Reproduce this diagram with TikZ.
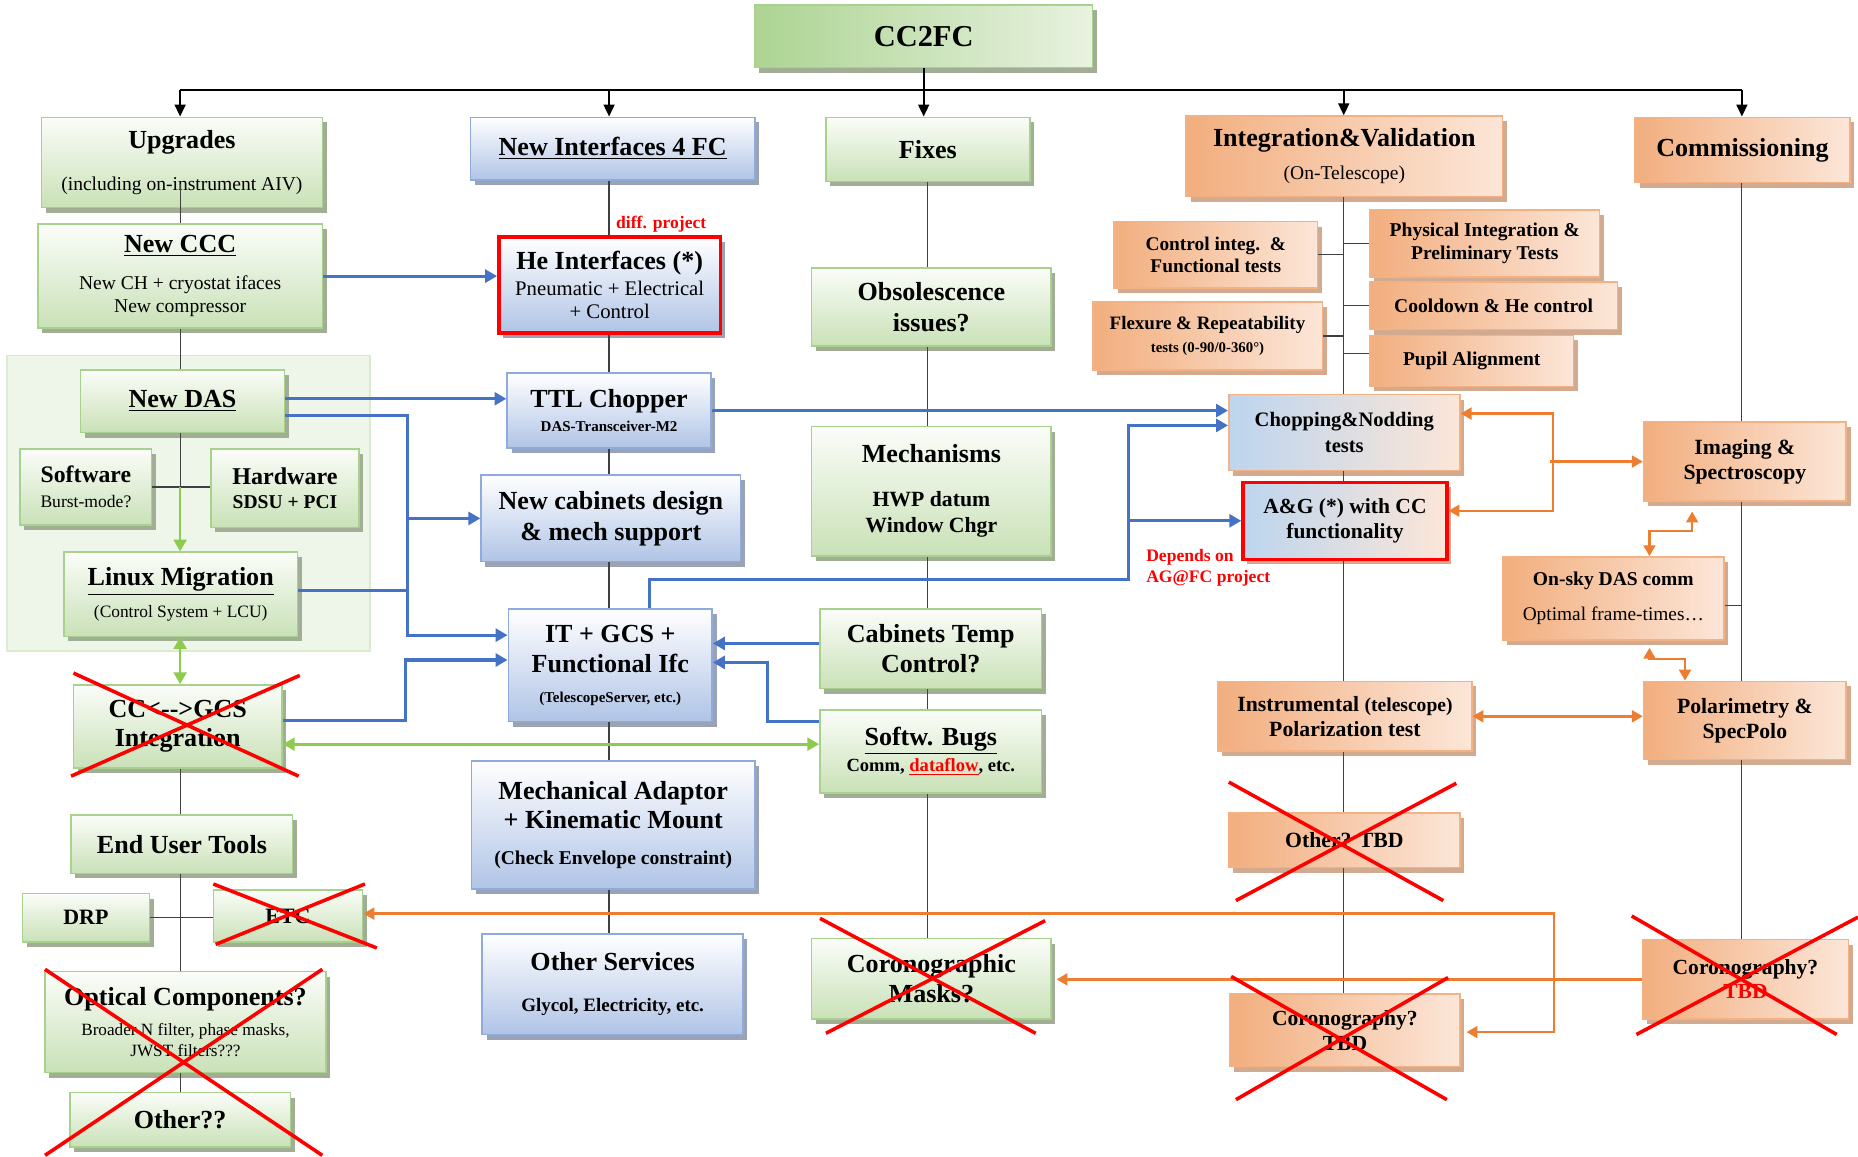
\documentclass[tikz,border=0pt]{standalone}
\usepackage{fontspec}
\setmainfont{Liberation Serif}
\usetikzlibrary{shadows,arrows.meta,calc}
\definecolor{grB}{HTML}{A9D18E}
\definecolor{grT}{HTML}{FBFDF9}
\definecolor{grF}{HTML}{C9E1B7}
\definecolor{grS}{HTML}{A2AD96}
\definecolor{blB}{HTML}{8FAADC}
\definecolor{blF}{HTML}{B0C4E6}
\definecolor{blS}{HTML}{9AA3B6}
\definecolor{orB}{HTML}{F4B183}
\definecolor{orD}{HTML}{F2AE7E}
\definecolor{orL}{HTML}{FCE6D8}
\definecolor{orS}{HTML}{D2AA90}
\definecolor{chL}{HTML}{BDD5EE}
\definecolor{ccL}{HTML}{ADD493}
\definecolor{ccR}{HTML}{E8F2E0}
\definecolor{cBl}{HTML}{4472C4}
\definecolor{cGr}{HTML}{8CCB4E}
\definecolor{cOr}{HTML}{ED7D31}
\definecolor{cRd}{HTML}{FF0000}
\definecolor{cGy}{HTML}{404040}
\definecolor{pnlF}{HTML}{EEF5E9}
\definecolor{pnlB}{HTML}{DCEBD0}
\lineskiplimit=-100pt
\pgfdeclarelayer{bg}
\pgfsetlayers{bg,main}
\newcommand{\fsz}[2]{\fontsize{#1}{#2}\selectfont\lineskiplimit=-100pt\relax}
\newcommand{\tR}{\fsz{9.9}{10}\mdseries}
\newcommand{\tB}{\fsz{9.9}{10}}
\newcommand{\tM}{\fsz{11}{11}}
\newcommand{\tX}{\fsz{7.6}{8}}
\newcommand{\bx}[7]{%
  \pgfmathsetmacro{\bxcx}{(#3+#5)/2}%
  \pgfmathsetmacro{\bxcy}{(#4+#6)/2}%
  \pgfmathsetlengthmacro{\bxw}{(#5-#3)*0.6pt}%
  \pgfmathsetlengthmacro{\bxh}{(#6-#4)*0.6pt}%
  \node[#2, minimum width=\bxw, minimum height=\bxh] (#1) at (\bxcx,\bxcy) {#7};%
}
\tikzset{
  box/.style={align=center, inner sep=0pt, line width=0.8pt, font=\fsz{13.2}{15}\bfseries},
  ft/.style 2 args={font=\fsz{#1}{#2}\bfseries},
  shd/.style={drop shadow={shadow xshift=2.2pt, shadow yshift=-2.6pt, fill=#1, opacity=1}},
  gbox/.style={box, draw=grB, top color=grT, bottom color=grF, shd=grS},
  bbox/.style={box, draw=blB, top color=white, bottom color=blF, shd=blS},
  obox/.style={box, draw=orB, left color=orD, right color=orL, shd=orS},
  chbox/.style={box, draw=orB, left color=chL, right color=orL, shd=orS},
  redb/.style={draw=cRd, line width=1.8pt},
  lbl/.style={text=cRd, inner sep=0pt, font=\fsz{8.9}{10.8}\bfseries},
  gline/.style={draw=cGy, line width=0.6pt},
  kline/.style={draw=black, line width=0.9pt},
  cnK/.style={kline, -{Triangle[length=6pt,width=5.5pt]}},
  bline/.style={draw=cBl, line width=1.6pt},
  cnB/.style={bline, -{Triangle[length=6pt,width=6.5pt]}},
  cnG/.style={draw=cGr, line width=1.4pt, -{Triangle[length=6pt,width=6.5pt]}},
  cnGG/.style={draw=cGr, line width=1.4pt, {Triangle[length=6pt,width=6.5pt]}-{Triangle[length=6pt,width=6.5pt]}},
  cnO/.style={draw=cOr, line width=1.2pt, -{Triangle[length=5.5pt,width=6pt]}},
  cnOO/.style={draw=cOr, line width=1.2pt, {Triangle[length=5.5pt,width=6pt]}-{Triangle[length=5.5pt,width=6pt]}},
  xout/.style={draw=cRd, line width=1.8pt},
}
\begin{document}
\begin{tikzpicture}[x=0.6pt, y=-0.6pt]
\useasboundingbox (0,0) rectangle (1568,976);
\begin{pgfonlayer}{bg}
  \draw[fill=pnlF, draw=pnlB, line width=1pt] (6,300) rectangle (312,549);
\end{pgfonlayer}

% ---------- top ----------
\bx{cc2fc}{box, draw=grB, left color=ccL, right color=ccR, shd=grS, ft={15.4}{16}}{637}{4}{922}{57}{CC2FC}

% ---------- column 1 ----------
\bx{upg}{gbox, ft={13.2}{21}}{35}{99}{272}{175}{Upgrades\\{\tR (including on-instrument AIV)}}
\bx{ccc}{gbox, ft={13.2}{12}}{32}{189}{272}{277}{\underline{New CCC}\\[6.6pt]{\tR New CH + cryostat ifaces}\\{\tR New compressor}}
\bx{das}{gbox}{68}{312}{240}{365}{\underline{New DAS}}
\bx{sw}{gbox, ft={12}{12.6}}{17}{379}{128}{443}{Software\\{\fsz{8.9}{9}\mdseries Burst-mode?}}
\bx{hw}{gbox, ft={12.2}{12.6}}{178}{379}{303}{445}{Hardware\\{\tB SDSU + PCI}}
\bx{lm}{gbox, ft={13.2}{16.2}}{54}{466}{251}{537}{\underline{Linux Migration}\\{\fsz{8.8}{9}\mdseries (Control System + LCU)}}
\bx{cc}{gbox}{62}{578}{238}{648}{CC<{-}{-}>GCS\\Integration}
\bx{eut}{gbox}{60}{688}{247}{737}{End User Tools}
\bx{drp}{gbox, ft={11.1}{12}}{19}{754}{126}{795}{DRP}
\bx{etc}{gbox, ft={11.1}{12}}{180}{751}{306}{795}{ETC}
\bx{opt}{gbox, ft={13.2}{10.8}}{38}{820}{275}{905}{Optical Components?\\[4.2pt]{\fsz{8.7}{9}\mdseries Broader N filter, phase masks,}\\{\fsz{8.7}{9}\mdseries JWST filters???}}
\bx{oth}{gbox}{59}{922}{245}{968}{Other??}

% ---------- column 2 ----------
\bx{nif}{bbox}{397}{99}{637}{152}{\underline{New Interfaces 4 FC}}
\bx{he}{bbox, redb, ft={13.2}{11.4}}{421}{200}{608}{281}{He Interfaces (*)\\[1.8pt]{\fsz{10.5}{10}\mdseries Pneumatic + Electrical}\\{\fsz{10.5}{10}\mdseries + Control}}
\bx{ttl}{bbox, ft={13.2}{12}}{428}{315}{600}{378}{TTL Chopper\\{\tX DAS-Transceiver-M2}}
\bx{cab}{bbox, ft={13.2}{15.6}}{406}{401}{625}{474}{New cabinets design\\\& mech support}
\bx{it}{bbox}{429}{514}{601}{609}{IT + GCS +\\Functional Ifc\\{\tX (TelescopeServer, etc.)}}
\bx{mech}{bbox}{398}{642}{637}{750}{Mechanical Adaptor\\+ Kinematic Mount\\[3pt]{\tB (Check Envelope constraint)}}
\bx{os}{bbox, ft={13.2}{21}}{407}{788}{627}{873}{Other Services\\{\fsz{9.6}{10}Glycol, Electricity, etc.}}

% ---------- column 3 ----------
\bx{fixes}{gbox}{697}{99}{869}{153}{Fixes}
\bx{obs}{gbox, ft={13.2}{15.6}}{685}{226}{887}{292}{Obsolescence\\issues?}
\bx{mechs}{gbox, ft={13.2}{13.2}}{685}{360}{887}{469}{Mechanisms\\[9pt]{\tM HWP datum}\\{\tM Window Chgr}}
\bx{ct}{gbox}{692}{514}{879}{581}{Cabinets Temp\\Control?}
\bx{sb}{gbox, ft={13.2}{13.2}}{692}{599}{879}{669}{\underline{Softw. Bugs}\\{\fsz{9.4}{10}Comm, \textcolor{red}{\underline{dataflow}}, etc.}}
\bx{masks}{gbox}{685}{792}{887}{860}{Coronographic\\Masks?}

% ---------- column 4 ----------
\bx{integ}{obox, ft={13.2}{16.8}}{1001}{98}{1268}{166}{Integration\&Validation\\{\tR (On-Telescope)}}
\bx{ci}{obox, ft={9.8}{11.4}}{940}{187}{1112}{243}{Control integ.\ \ \&\\Functional tests}
\bx{pi}{obox, ft={9.9}{11.4}}{1156}{177}{1350}{234}{Physical Integration \&\\Preliminary Tests}
\bx{fx}{obox, ft={9.6}{11.4}}{922}{255}{1116}{312}{Flexure \& Repeatability\\{\fsz{7.5}{8}tests (0-90/0-360°)}}
\bx{cd}{obox, ft={9.9}{12}}{1156}{238}{1365}{278}{Cooldown \& He control}
\bx{pa}{obox, ft={9.9}{12}}{1156}{283}{1328}{326}{Pupil Alignment}
\bx{chop}{chbox, ft={10.4}{13.2}}{1037}{333}{1232}{397}{Chopping\&Nodding\\tests}
\bx{ag}{chbox, redb, ft={10.9}{12.6}}{1049}{407}{1221}{472}{A\&G (*) with CC\\functionality}
\bx{ins}{obox, ft={11}{12.6}}{1028}{575}{1242}{634}{Instrumental {\fsz{9.9}{10}(telescope)}\\Polarization test}
\bx{ot4}{obox, ft={11}{12}}{1037}{686}{1232}{732}{Other? TBD}
\bx{cor4}{obox, ft={10.9}{12.6}}{1038}{839}{1232}{900}{Coronography?\\TBD}

% ---------- column 5 ----------
\bx{comm}{obox}{1380}{99}{1561}{154}{Commissioning}
\bx{img}{obox, ft={11}{12.6}}{1387}{356}{1558}{423}{Imaging \&\\Spectroscopy}
\bx{osky}{obox, ft={9.9}{17.4}}{1268}{470}{1455}{540}{On-sky DAS comm\\{\fsz{9.8}{10}\mdseries Optimal frame-times…}}
\bx{pol}{obox, ft={11}{12.6}}{1387}{575}{1558}{641}{Polarimetry \&\\SpecPolo}
\bx{cor5}{obox, ft={10.9}{12}}{1386}{793}{1560}{860}{Coronography?\\\textcolor{red}{TBD}}

% ---------- labels ----------
\node[lbl] (dp) at (558,189) {diff. project};
\node[lbl, align=left, anchor=west] (dep) at (967,479) {Depends on\\AG@FC project};

% ---------- helper coordinates ----------
\coordinate (x1) at (152,0);
\coordinate (x2) at (514,0);
\coordinate (x3) at (783,0);
\coordinate (x4) at (1134,0);
\coordinate (x5) at (1470,0);
\coordinate (bus) at (0,76);
\coordinate (bx) at (344,0);
\coordinate (jb) at (952,489);

% ---------- top bus ----------
\draw[kline] (x1 |- bus) -- (x5 |- bus);
\draw[kline] (cc2fc.south) -- (cc2fc.south |- bus);
\draw[cnK] (x1 |- bus) -- (x1 |- upg.north);
\draw[cnK] (x2 |- bus) -- (x2 |- nif.north);
\draw[cnK] (cc2fc.south |- bus) -- (cc2fc.south |- fixes.north);
\draw[cnK] (x4 |- bus) -- (x4 |- integ.north);
\draw[cnK] (x5 |- bus) -- (x5 |- comm.north);

% ---------- column backbones ----------
\draw[gline] ($(x1 |- upg.center)+(0,18)$) -- (x1 |- ccc.north);
\draw[gline] (x1 |- ccc.south) -- (x1 |- das.north);
\coordinate (jsw) at (x1 |- sw.east);
\draw[gline] (x1 |- das.south) -- (jsw);
\draw[gline] (sw.east) -- (hw.west |- sw.east);
\draw[cnG] (jsw) -- (x1 |- lm.north);
\draw[cnGG] (x1 |- lm.south) -- (x1 |- cc.north);
\draw[gline] (x1 |- cc.south) -- (x1 |- eut.north);
\draw[gline] (x1 |- eut.south) -- (x1 |- opt.north);
\draw[gline] (drp.east) -- (etc.west |- drp.east);
\draw[gline] (x1 |- opt.south) -- (x1 |- oth.north);

\draw[gline] (x2 |- nif.south) -- (x2 |- he.north);
\draw[gline] (x2 |- he.south) -- (x2 |- ttl.north);
\draw[gline] (x2 |- ttl.south) -- (x2 |- cab.north);
\draw[gline] (x2 |- cab.south) -- (x2 |- it.north);
\draw[gline] (x2 |- it.south) -- (x2 |- mech.north);
\draw[gline] (x2 |- mech.south) -- (x2 |- os.north);

\draw[gline] (x3 |- fixes.south) -- (x3 |- obs.north);
\draw[gline] (x3 |- obs.south) -- (x3 |- mechs.north);
\draw[gline] (x3 |- mechs.south) -- (x3 |- ct.north);
\draw[gline] (x3 |- ct.south) -- (x3 |- sb.north);
\draw[gline] (x3 |- sb.south) -- (x3 |- masks.north);

\draw[gline] (x4 |- integ.south) -- (x4 |- chop.north);
\draw[gline] (x4 |- chop.south) -- (x4 |- ag.north);
\draw[gline] (x4 |- ag.south) -- (x4 |- ins.north);
\draw[gline] (x4 |- ins.south) -- (x4 |- ot4.north);
\draw[gline] (x4 |- ot4.south) -- (x4 |- cor4.north);
\draw[gline] (ci.east) -- (x4 |- ci.east);
\draw[gline] (pi.west) -- (x4 |- pi.west);
\draw[gline] (fx.east) -- (x4 |- fx.east);
\draw[gline] (cd.west) -- (x4 |- cd.west);
\draw[gline] ($(pa.west)+(0,-6)$) -- ($(x4 |- pa.west)+(0,-6)$);

\draw[gline] (x5 |- comm.south) -- (x5 |- img.north);
\draw[gline] (x5 |- img.south) -- (x5 |- pol.north);
\draw[gline] (x5 |- pol.south) -- (x5 |- cor5.north);
\draw[gline] ($(osky.east)+(0,6)$) -- ($(x5 |- osky.east)+(0,6)$);

% ---------- blue connectors ----------
\draw[cnB] (ccc.east) -- (ccc.east -| he.west);
\draw[cnB] ($(das.east)+(0,-2)$) -- ($(das.east -| ttl.west)+(0,-2)$);
\draw[cnB] ($(das.east)+(0,12)$) -| ($(bx |- it.west)+(0,-25.5)$) -- ($(it.west)+(0,-25.5)$);
\draw[cnB] (bx |- cab.west) -- (cab.west);
\draw[bline] ($(lm.east)+(0,-3)$) -- ($(bx |- lm.east)+(0,-3)$);
\draw[cnB] ($(cc.east)+(0,-5)$) -| ($(bx |- it.west)+(-2,-4.5)$) -- ($(it.west)+(0,-4.5)$);
\draw[cnB] (ttl.east) -- (ttl.east -| chop.west);
\draw[cnB] ($(it.north)+(33,0)$) |- (jb) |- ($(chop.west)+(0,-6)$);
\draw[cnB] (jb |- ag.west) -- (ag.west);
\draw[cnB] ($(ct.west)+(0,-4.5)$) -- ($(it.east)+(0,-18.5)$);
\draw[cnB] ($(sb.west)+(0,-25)$) -| ($(it.east)+(46,-2.5)$) -- ($(it.east)+(0,-2.5)$);

% ---------- green connectors ----------
\draw[cnGG] ($(cc.east)+(0,15)$) -- ($(sb.west)+(0,-6)$);

% ---------- orange connectors ----------
\draw[cnOO] ($(chop.east)+(0,-16)$) -| ($(ag.east)+(88,-8.5)$) -- ($(ag.east)+(0,-8.5)$);
\draw[cnO] ($(img.west)+(-78,0)$) -- (img.west);
\draw[cnOO] ($(img.south)+(-44.5,8)$) |- ($(osky.north)+(30.5,-21)$) -- ($(osky.north)+(30.5,0)$);
\draw[cnOO] ($(osky.south)+(30.5,6)$) |- ($(pol.north)+(-50.5,-18)$) -- ($(pol.north)+(-50.5,0)$);
\draw[cnOO] (ins.east) -- (ins.east -| pol.west);
\draw[cnO] (cor5.west) -- ($(cor5.west -| masks.east)+(4,0)$);
\draw[cnOO] ($(etc.east)+(0,-2)$) -| ($(cor4.east)+(79,1.5)$) -- ($(cor4.east)+(5,1.5)$);

% ---------- crossed-out marks ----------
\draw[xout] (62,568) -- (252,655);  \draw[xout] (60,655) -- (253,570);
\draw[xout] (180,746) -- (318,800); \draw[xout] (182,797) -- (308,746);
\draw[xout] (38,818) -- (272,975);  \draw[xout] (272,818) -- (38,975);
\draw[xout] (692,775) -- (874,872); \draw[xout] (697,872) -- (882,777);
\draw[xout] (1037,660) -- (1218,760); \draw[xout] (1043,760) -- (1229,661);
\draw[xout] (1039,824) -- (1221,928); \draw[xout] (1043,928) -- (1222,825);
\draw[xout] (1377,773) -- (1550,873); \draw[xout] (1381,873) -- (1568,774);
\end{tikzpicture}
\end{document}
